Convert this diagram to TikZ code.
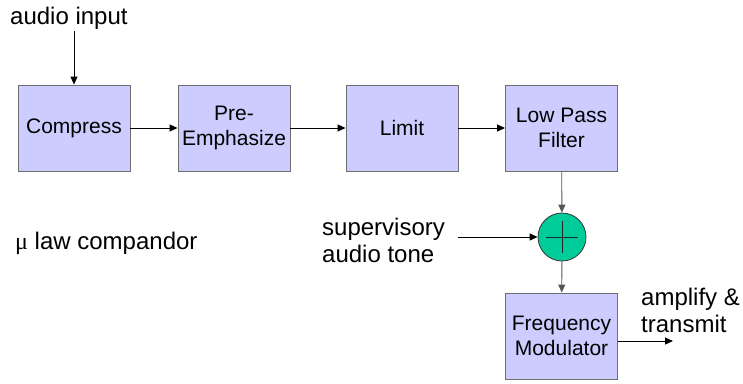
\documentclass[tikz,border=0pt]{standalone}
\usepackage{fontspec}
\setmainfont{Liberation Sans}
\newfontfamily\greekfont{Liberation Serif}
\usetikzlibrary{arrows.meta}
\definecolor{boxfill}{HTML}{CCCCFF}
\definecolor{boxline}{HTML}{6E6E6E}
\definecolor{sumfill}{HTML}{00CC99}
\definecolor{wire}{HTML}{555555}
\tikzset{
  block/.style={draw=boxline, line width=0.9pt, fill=boxfill, minimum width=112pt,
    minimum height=86pt, inner sep=1pt, align=center, font=\fontsize{21}{25}\selectfont},
  label/.style={inner sep=0pt, align=left, font=\fontsize{24}{27}\selectfont},
  flow/.style={-{Triangle[length=8pt,width=7pt]}, line width=0.9pt, black},
  vflow/.style={flow, draw=wire},
}
\begin{document}
\begin{tikzpicture}[x=1pt,y=-1pt]
\useasboundingbox (0,0) rectangle (743,383);

% processing chain
\node[block] (cmp) at (74,128) {Compress};
\node[block] (pre) at (234,128) {Pre-\\Emphasize};
\node[block] (lim) at (402,128) {Limit};
\node[block] (lpf) at (561.5,128) {Low Pass\\Filter};
\node[circle, draw=black!80, line width=0.8pt, fill=sumfill, minimum size=48pt, inner sep=0pt] (sum) at (562,237) {};
\draw[line width=0.9pt, black!85] ([xshift=-16pt]sum.center) -- ([xshift=16pt]sum.center)
  ([yshift=-16pt]sum.center) -- ([yshift=16pt]sum.center);
\node[block] (fm) at (561.5,336) {Frequency\\Modulator};

% text labels
\node[label, anchor=west] (ain) at (10,18) {audio input};
\node[label, anchor=west] (sat) at (322,240) {supervisory\\audio tone};
\node[label, anchor=west] (amp) at (641,310) {amplify \&\\transmit};
\node[label, anchor=west] (mu) at (15,243) {{\greekfont μ} law compandor};

\coordinate (ainend) at (74,31);
\coordinate (satend) at (458,237);
\coordinate (outend) at (673,341);

% connectors
\draw[flow] (ainend) -- (cmp.north);
\draw[flow] (cmp) -- (pre);
\draw[flow] (pre) -- (lim);
\draw[flow] (lim) -- (lpf);
\draw[vflow] (lpf) -- (sum);
\draw[flow] (satend) -- (sum.west);
\draw[vflow] (sum) -- (fm);
\draw[flow] ([yshift=-5pt]fm.east) -- (outend);
\end{tikzpicture}
\end{document}
